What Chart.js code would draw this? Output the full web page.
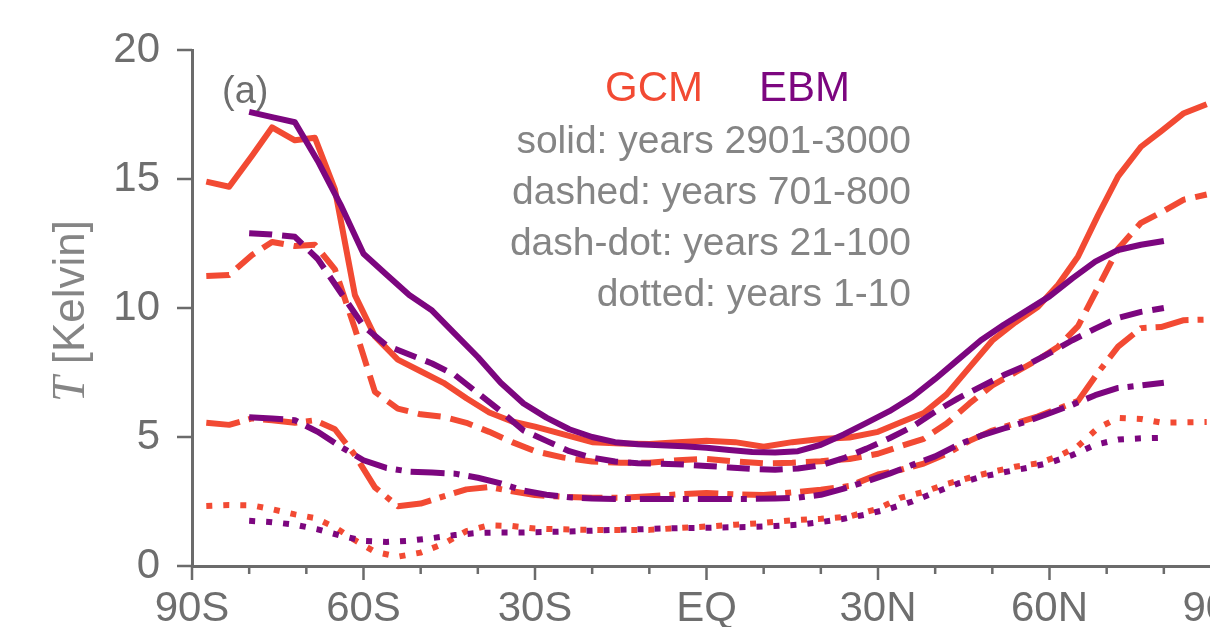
<!DOCTYPE html>
<html>
<head>
<meta charset="utf-8">
<script src="https://cdn.jsdelivr.net/npm/chart.js@4.4.1/dist/chart.umd.min.js"></script>
<style>
  html, body { margin: 0; padding: 0; background: #fff; overflow: hidden; }
  #wrap { width: 1280px; height: 627px; }
</style>
</head>
<body>
<div id="wrap"><canvas id="chart" width="1280" height="627"></canvas></div>
<script>
/* ---------- Data ---------- */
const gcmLat = [-87.5, -83.5, -79.5, -76, -72, -68.5, -65, -61.5, -58, -54, -50, -46, -42, -38, -34, -30,
  -25, -20, -15, -10, -5, 0, 5, 10, 15, 20, 25, 30, 34, 38, 42, 46, 50, 54, 58, 61.5, 65, 68.5, 72, 76, 79.5, 83.5, 87.5];
const gcmSolid = [14.9, 14.7, 15.9, 17.0, 16.5, 16.6, 14.6, 10.5, 8.9, 8.0, 7.55, 7.1, 6.5, 5.95, 5.6, 5.4,
  5.1, 4.8, 4.75, 4.73, 4.8, 4.85, 4.8, 4.62, 4.8, 4.92, 4.98, 5.2, 5.57, 5.93, 6.65, 7.7, 8.74, 9.44, 10.05, 10.9, 12.0, 13.6, 15.1, 16.25, 16.85, 17.55, 17.9];
const gcmDashed = [11.24, 11.28, 12.05, 12.56, 12.4, 12.45, 11.5, 9.2, 6.75, 6.1, 5.88, 5.78, 5.55, 5.2, 4.8, 4.45,
  4.2, 4.05, 4.0, 4.0, 4.1, 4.15, 4.05, 3.98, 4.0, 4.06, 4.15, 4.35, 4.65, 4.93, 5.52, 6.3, 7.0, 7.5, 8.0, 8.5, 9.3, 10.8, 12.3, 13.3, 13.7, 14.2, 14.4];
const gcmDashDot = [5.55, 5.47, 5.72, 5.65, 5.55, 5.65, 5.3, 4.3, 3.05, 2.32, 2.42, 2.7, 2.97, 3.06, 2.9, 2.75,
  2.68, 2.65, 2.64, 2.7, 2.78, 2.83, 2.78, 2.75, 2.85, 2.96, 3.1, 3.55, 3.73, 3.97, 4.35, 4.85, 5.25, 5.53, 5.8, 6.1, 6.4, 7.5, 8.5, 9.22, 9.26, 9.53, 9.55];
const gcmDotted = [2.33, 2.36, 2.35, 2.2, 2.0, 1.86, 1.5, 1.0, 0.55, 0.36, 0.52, 0.86, 1.35, 1.58, 1.55, 1.45,
  1.42, 1.4, 1.4, 1.4, 1.47, 1.53, 1.6, 1.67, 1.77, 1.83, 1.92, 2.22, 2.65, 2.87, 3.18, 3.42, 3.65, 3.85, 3.98, 4.25, 4.65, 5.35, 5.74, 5.7, 5.56, 5.57, 5.58];

const ebmLat = [-80, -76, -72, -68, -64, -60, -56, -52, -48, -44, -40, -36, -32, -28, -24, -20, -16, -12, -8, -4,
  0, 4, 8, 12, 16, 20, 24, 28, 32, 36, 40, 44, 48, 52, 56, 60, 64, 68, 72, 76, 80];
const ebmSolid = [17.6, 17.4, 17.2, 15.7, 14.0, 12.1, 11.3, 10.5, 9.9, 9.0, 8.1, 7.1, 6.3, 5.75, 5.3, 5.0, 4.8, 4.72, 4.68, 4.64,
  4.58, 4.5, 4.42, 4.4, 4.45, 4.7, 5.1, 5.55, 6.0, 6.55, 7.25, 8.0, 8.75, 9.35, 9.9, 10.45, 11.15, 11.8, 12.25, 12.45, 12.6];
const ebmDashed = [12.9, 12.85, 12.76, 11.9, 10.6, 9.3, 8.55, 8.2, 7.85, 7.4, 6.7, 6.0, 5.25, 4.85, 4.45, 4.2, 4.05, 3.98, 3.96, 3.93,
  3.88, 3.82, 3.76, 3.73, 3.78, 3.9, 4.18, 4.55, 4.95, 5.4, 5.98, 6.5, 6.95, 7.4, 7.78, 8.25, 8.75, 9.2, 9.62, 9.85, 10.0];
const ebmDashDot = [5.77, 5.72, 5.65, 5.2, 4.62, 4.1, 3.8, 3.66, 3.62, 3.58, 3.42, 3.2, 2.92, 2.76, 2.66, 2.62, 2.6, 2.6, 2.6, 2.6,
  2.6, 2.6, 2.6, 2.62, 2.65, 2.76, 3.0, 3.28, 3.58, 3.92, 4.25, 4.7, 5.05, 5.33, 5.6, 5.92, 6.25, 6.62, 6.9, 7.0, 7.1];
const ebmDotted = [1.75, 1.7, 1.6, 1.42, 1.18, 0.97, 0.93, 0.98, 1.08, 1.2, 1.28, 1.3, 1.3, 1.32, 1.34, 1.37, 1.4, 1.42, 1.45, 1.47,
  1.48, 1.5, 1.51, 1.55, 1.6, 1.7, 1.83, 2.0, 2.22, 2.5, 2.85, 3.2, 3.45, 3.63, 3.8, 4.0, 4.3, 4.7, 4.9, 4.95, 4.97];

const latTicks = [-90, -60, -30, 0, 30, 60, 90];
const latLabels = ['90S', '60S', '30S', 'EQ', '30N', '60N', '90N'];
const legendRows = ['solid: years 2901-3000', 'dashed: years 701-800', 'dash-dot: years 21-100', 'dotted: years 1-10'];

const RED = '#f24a33';
const PURPLE = '#7c067f';
const AXIS = '#6b6b6b';
const TEXT = '#6e6e6e';
const LEGEND = '#858585';
const FONT = '"Liberation Sans", Arial, sans-serif';

const DASH = { solid: [], dashed: [23, 10], dashdot: [34, 9, 6, 9], dotted: [6, 11] };

const pts = (lat, vals) => lat.map((x, i) => ({ x, y: vals[i] }));
const line = (label, lat, vals, color, dash, order) => ({
  label,
  data: pts(lat, vals),
  borderColor: color,
  borderWidth: 6,
  borderDash: dash,
  borderCapStyle: 'butt',
  borderJoinStyle: 'round',
  pointRadius: 0,
  fill: false,
  tension: 0,
  order,
});

/* ---------- Decorations: ticks, legend text, panel label, y title ---------- */
const decor = {
  id: 'decor',
  afterDraw(chart) {
    const { ctx, chartArea } = chart;
    const xs = chart.scales.x, ys = chart.scales.y;
    ctx.save();
    ctx.strokeStyle = AXIS;
    ctx.lineWidth = 2.5;
    // x ticks: major every 30, minor every 10
    for (let v = -90; v <= 90; v += 10) {
      const px = xs.getPixelForValue(v);
      const len = v % 30 === 0 ? 14 : 8;
      ctx.beginPath();
      ctx.moveTo(px, chartArea.bottom);
      ctx.lineTo(px, chartArea.bottom + len);
      ctx.stroke();
    }
    // y ticks
    for (let v = 0; v <= 20; v += 5) {
      const py = ys.getPixelForValue(v);
      ctx.beginPath();
      ctx.moveTo(chartArea.left - 15, py);
      ctx.lineTo(chartArea.left, py);
      ctx.stroke();
    }

    // panel label
    ctx.fillStyle = TEXT;
    ctx.font = '38px ' + FONT;
    ctx.textAlign = 'left';
    ctx.textBaseline = 'middle';
    ctx.fillText('(a)', 222, 93);

    // model names
    ctx.font = '42px ' + FONT;
    ctx.fillStyle = RED;
    ctx.fillText('GCM', 605, 89);
    ctx.fillStyle = PURPLE;
    ctx.fillText('EBM', 759, 89);

    // line-style legend
    ctx.font = '39px ' + FONT;
    ctx.fillStyle = LEGEND;
    ctx.textAlign = 'right';
    legendRows.forEach((t, i) => ctx.fillText(t, 911, 142 + i * 51));

    // y axis title: italic T + [Kelvin]
    ctx.translate(72, 311);
    ctx.rotate(-Math.PI / 2);
    ctx.fillStyle = LEGEND;
    ctx.textBaseline = 'middle';
    const serif = 'italic 46px "Liberation Serif", "DejaVu Serif", serif';
    const sans = '44px ' + FONT;
    ctx.font = serif;
    const tW = ctx.measureText('T').width;
    ctx.font = sans;
    const kW = ctx.measureText(' [Kelvin]').width;
    const x0 = -(tW + kW) / 2;
    ctx.textAlign = 'left';
    ctx.font = serif;
    ctx.fillText('T', x0, 0);
    ctx.font = sans;
    ctx.fillText(' [Kelvin]', x0 + tW, 0);
    ctx.restore();
  },
};

new Chart(document.getElementById('chart'), {
  type: 'line',
  data: {
    datasets: [
      line('GCM solid', gcmLat, gcmSolid, RED, DASH.solid, 2),
      line('GCM dashed', gcmLat, gcmDashed, RED, DASH.dashed, 2),
      line('GCM dash-dot', gcmLat, gcmDashDot, RED, DASH.dashdot, 2),
      line('GCM dotted', gcmLat, gcmDotted, RED, DASH.dotted, 2),
      line('EBM solid', ebmLat, ebmSolid, PURPLE, DASH.solid, 1),
      line('EBM dashed', ebmLat, ebmDashed, PURPLE, DASH.dashed, 1),
      line('EBM dash-dot', ebmLat, ebmDashDot, PURPLE, DASH.dashdot, 1),
      line('EBM dotted', ebmLat, ebmDotted, PURPLE, DASH.dotted, 1),
    ],
  },
  options: {
    responsive: false,
    animation: false,
    clip: false,
    layout: { padding: { left: 0, right: 59, top: 50, bottom: 0 } },
    plugins: { legend: { display: false }, tooltip: { enabled: false } },
    scales: {
      x: {
        type: 'linear',
        min: -90,
        max: 90,
        afterBuildTicks: (s) => { s.ticks = latTicks.map((v) => ({ value: v })); },
        afterFit: (s) => { s.height = 61; s.paddingLeft = 0; s.paddingRight = 0; },
        ticks: {
          autoSkip: false,
          maxRotation: 0,
          padding: 18,
          color: TEXT,
          font: { family: FONT, size: 42 },
          callback: (v) => latLabels[latTicks.indexOf(v)] ?? '',
        },
        grid: { display: false, drawTicks: false },
        border: { display: true, color: AXIS, width: 3 },
      },
      y: {
        min: 0,
        max: 20,
        afterFit: (s) => { s.width = 192; s.paddingTop = 0; s.paddingBottom = 0; },
        ticks: {
          stepSize: 5,
          padding: 32,
          color: TEXT,
          font: { family: FONT, size: 42 },
        },
        grid: { display: false, drawTicks: false },
        border: { display: true, color: AXIS, width: 3 },
      },
    },
  },
  plugins: [decor],
});
</script>
</body>
</html>
